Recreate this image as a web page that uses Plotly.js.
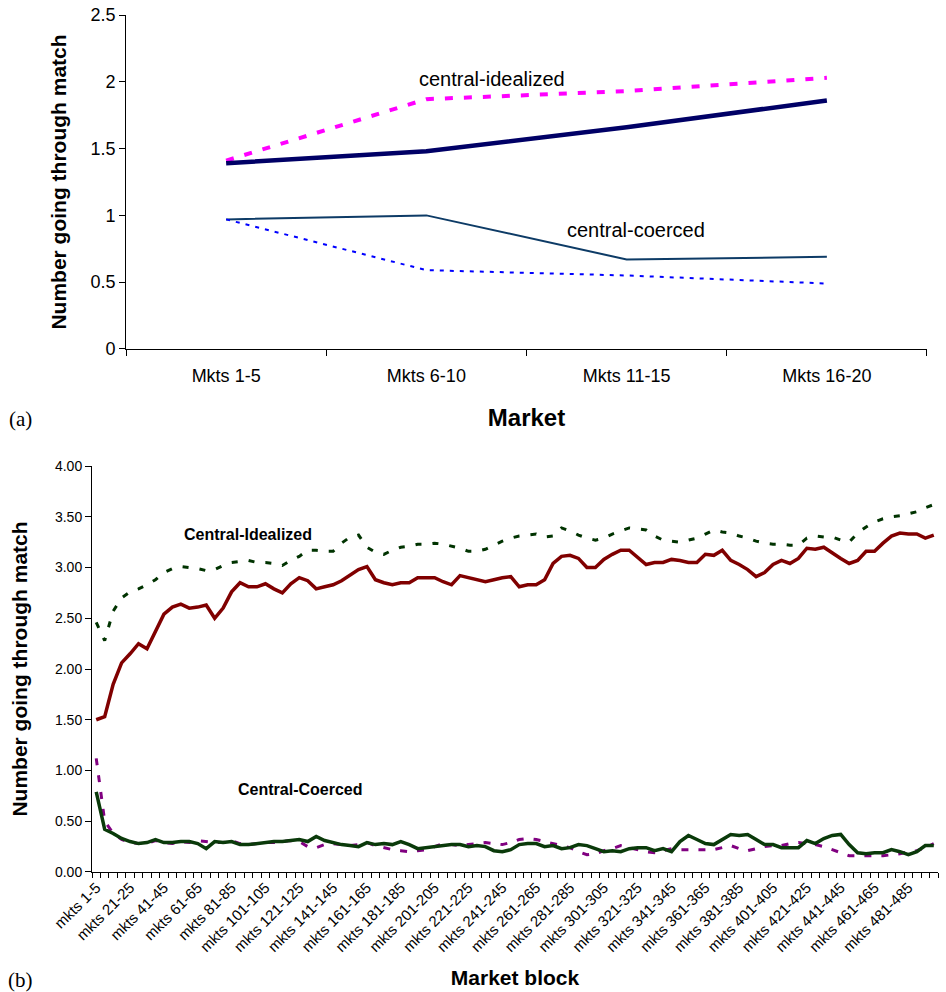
<!DOCTYPE html>
<html>
<head>
<meta charset="utf-8">
<script src="https://cdn.plot.ly/plotly-3.0.1.min.js"></script>
<style>html,body{margin:0;padding:0;background:#fff;}#chart{width:946px;height:992px;}</style>
</head>
<body>
<div id="chart"></div>
<script>
// ---------- Panel (a) data ----------
const aCategories = ["Mkts 1-5", "Mkts 6-10", "Mkts 11-15", "Mkts 16-20"];
const aIdealizedSolid  = [1.39, 1.48, 1.66, 1.86];
const aIdealizedDashed = [1.41, 1.87, 1.93, 2.03];
const aCoercedSolid    = [0.97, 1.00, 0.67, 0.69];
const aCoercedDotted   = [0.97, 0.59, 0.55, 0.49];

// ---------- Panel (b) data ----------
const bCategories = [
"mkts 1-5","mkts 6-10","mkts 11-15","mkts 16-20","mkts 21-25","mkts 26-30","mkts 31-35","mkts 36-40","mkts 41-45","mkts 46-50",
"mkts 51-55","mkts 56-60","mkts 61-65","mkts 66-70","mkts 71-75","mkts 76-80","mkts 81-85","mkts 86-90","mkts 91-95","mkts 96-100",
"mkts 101-105","mkts 106-110","mkts 111-115","mkts 116-120","mkts 121-125","mkts 126-130","mkts 131-135","mkts 136-140","mkts 141-145","mkts 146-150",
"mkts 151-155","mkts 156-160","mkts 161-165","mkts 166-170","mkts 171-175","mkts 176-180","mkts 181-185","mkts 186-190","mkts 191-195","mkts 196-200",
"mkts 201-205","mkts 206-210","mkts 211-215","mkts 216-220","mkts 221-225","mkts 226-230","mkts 231-235","mkts 236-240","mkts 241-245","mkts 246-250",
"mkts 251-255","mkts 256-260","mkts 261-265","mkts 266-270","mkts 271-275","mkts 276-280","mkts 281-285","mkts 286-290","mkts 291-295","mkts 296-300",
"mkts 301-305","mkts 306-310","mkts 311-315","mkts 316-320","mkts 321-325","mkts 326-330","mkts 331-335","mkts 336-340","mkts 341-345","mkts 346-350",
"mkts 351-355","mkts 356-360","mkts 361-365","mkts 366-370","mkts 371-375","mkts 376-380","mkts 381-385","mkts 386-390","mkts 391-395","mkts 396-400",
"mkts 401-405","mkts 406-410","mkts 411-415","mkts 416-420","mkts 421-425","mkts 426-430","mkts 431-435","mkts 436-440","mkts 441-445","mkts 446-450",
"mkts 451-455","mkts 456-460","mkts 461-465","mkts 466-470","mkts 471-475","mkts 476-480","mkts 481-485","mkts 486-490","mkts 491-495","mkts 496-500"
];
const bTickLabels = [
"mkts 1-5","mkts 21-25","mkts 41-45","mkts 61-65","mkts 81-85","mkts 101-105","mkts 121-125","mkts 141-145","mkts 161-165","mkts 181-185",
"mkts 201-205","mkts 221-225","mkts 241-245","mkts 261-265","mkts 281-285","mkts 301-305","mkts 321-325","mkts 341-345","mkts 361-365","mkts 381-385",
"mkts 401-405","mkts 421-425","mkts 441-445","mkts 461-465","mkts 481-485"
];
const bIdealizedSolid = [
1.50,1.53,1.85,2.06,2.15,2.25,2.20,2.37,2.54,2.61,
2.64,2.60,2.61,2.63,2.50,2.60,2.76,2.85,2.81,2.81,
2.84,2.79,2.75,2.84,2.90,2.87,2.79,2.81,2.83,2.87,
2.93,2.98,3.01,2.88,2.85,2.83,2.85,2.85,2.90,2.90,
2.90,2.86,2.83,2.92,2.90,2.88,2.86,2.88,2.90,2.91,
2.81,2.83,2.83,2.88,3.04,3.11,3.12,3.09,3.00,3.00,
3.08,3.13,3.17,3.17,3.10,3.03,3.05,3.05,3.08,3.07,
3.05,3.05,3.13,3.12,3.17,3.07,3.03,2.98,2.91,2.95,
3.03,3.07,3.04,3.09,3.19,3.18,3.20,3.14,3.09,3.04,
3.07,3.16,3.16,3.24,3.31,3.34,3.33,3.33,3.29,3.32
];
const bIdealizedDotted = [
2.46,2.28,2.57,2.70,2.76,2.79,2.83,2.88,2.95,2.99,
3.01,3.00,2.99,2.97,2.98,3.02,3.05,3.06,3.07,3.05,
3.05,3.04,3.02,3.07,3.11,3.17,3.17,3.16,3.16,3.24,
3.30,3.32,3.20,3.15,3.13,3.17,3.20,3.21,3.23,3.23,
3.24,3.23,3.21,3.19,3.16,3.16,3.18,3.22,3.26,3.29,
3.31,3.32,3.33,3.30,3.31,3.39,3.36,3.32,3.29,3.27,
3.29,3.33,3.36,3.39,3.38,3.37,3.31,3.27,3.26,3.25,
3.27,3.29,3.33,3.37,3.35,3.34,3.31,3.29,3.26,3.24,
3.23,3.23,3.22,3.22,3.29,3.31,3.30,3.30,3.27,3.25,
3.34,3.40,3.45,3.48,3.50,3.51,3.53,3.55,3.59,3.62
];
const bCoercedSolid = [
0.79,0.42,0.38,0.33,0.30,0.28,0.29,0.32,0.29,0.29,
0.30,0.30,0.28,0.23,0.30,0.29,0.30,0.27,0.27,0.28,
0.29,0.30,0.30,0.31,0.32,0.30,0.35,0.31,0.29,0.27,
0.26,0.25,0.29,0.27,0.28,0.27,0.30,0.27,0.23,0.24,
0.25,0.26,0.27,0.27,0.25,0.26,0.25,0.21,0.20,0.22,
0.27,0.28,0.28,0.25,0.26,0.23,0.24,0.27,0.26,0.23,
0.20,0.21,0.20,0.23,0.24,0.24,0.21,0.23,0.20,0.30,
0.36,0.32,0.28,0.27,0.32,0.37,0.36,0.37,0.32,0.27,
0.27,0.24,0.24,0.24,0.31,0.28,0.33,0.36,0.37,0.27,
0.19,0.18,0.19,0.19,0.22,0.20,0.17,0.20,0.26,0.26
];
const bCoercedDashed = [
1.12,0.50,0.38,0.32,0.29,0.28,0.28,0.31,0.29,0.28,
0.30,0.29,0.31,0.30,0.29,0.29,0.31,0.28,0.27,0.28,
0.29,0.29,0.30,0.31,0.30,0.25,0.24,0.27,0.28,0.27,
0.26,0.27,0.29,0.26,0.24,0.22,0.21,0.20,0.21,0.22,
0.25,0.28,0.27,0.26,0.27,0.28,0.29,0.28,0.27,0.29,
0.32,0.33,0.32,0.30,0.28,0.26,0.24,0.20,0.17,0.18,
0.21,0.23,0.26,0.24,0.22,0.20,0.19,0.21,0.23,0.22,
0.22,0.22,0.22,0.22,0.24,0.26,0.23,0.21,0.23,0.25,
0.26,0.26,0.28,0.29,0.28,0.27,0.25,0.22,0.19,0.16,
0.16,0.16,0.16,0.16,0.17,0.18,0.20,0.21,0.24,0.28
];

const FONT = "Liberation Sans, Arial, Helvetica, sans-serif";

const traces = [
  {x: aCategories, y: aIdealizedDashed, xaxis: "x", yaxis: "y", mode: "lines", name: "central-idealized (dashed)",
   line: {color: "#ff00ff", width: 4, dash: "8px,11px"}},
  {x: aCategories, y: aIdealizedSolid, xaxis: "x", yaxis: "y", mode: "lines", name: "central-idealized",
   line: {color: "#000066", width: 4.5}},
  {x: aCategories, y: aCoercedSolid, xaxis: "x", yaxis: "y", mode: "lines", name: "central-coerced",
   line: {color: "#0d3b66", width: 2}},
  {x: aCategories, y: aCoercedDotted, xaxis: "x", yaxis: "y", mode: "lines", name: "central-coerced (dotted)",
   line: {color: "#0000ff", width: 2, dash: "4px,6px"}},

  {x: bCategories, y: bIdealizedDotted, xaxis: "x2", yaxis: "y2", mode: "lines", name: "Central-Idealized (dotted)",
   line: {color: "#003300", width: 3, dash: "6px,11px"}},
  {x: bCategories, y: bIdealizedSolid, xaxis: "x2", yaxis: "y2", mode: "lines", name: "Central-Idealized",
   line: {color: "#800000", width: 3.5}},
  {x: bCategories, y: bCoercedDashed, xaxis: "x2", yaxis: "y2", mode: "lines", name: "Central-Coerced (dashed)",
   line: {color: "#800080", width: 3, dash: "7px,10px"}},
  {x: bCategories, y: bCoercedSolid, xaxis: "x2", yaxis: "y2", mode: "lines", name: "Central-Coerced",
   line: {color: "#0a3a0a", width: 3.5}}
];

const bTickText = bCategories.map(c => bTickLabels.indexOf(c) >= 0 ? c : "");

const layout = {
  width: 946, height: 992,
  margin: {l: 92, r: 8, t: 15, b: 120},
  paper_bgcolor: "#ffffff", plot_bgcolor: "#ffffff",
  showlegend: false,
  font: {family: FONT, color: "#000"},
  xaxis: {
    domain: [0.0402, 0.9870], anchor: "y", type: "category",
    range: [-0.5, 3.5], tickson: "boundaries",
    showline: true, linecolor: "#000", linewidth: 1, ticks: "outside", ticklen: 6, tickcolor: "#000",
    ticklabelstandoff: 10,
    showgrid: false, zeroline: false,
    tickfont: {size: 18, family: FONT},
    title: {text: "Market", font: {size: 24, family: FONT, weight: "bold"}, standoff: 24}
  },
  yaxis: {
    domain: [0.6103, 1.0], anchor: "x",
    range: [0, 2.5], dtick: 0.5, tick0: 0,
    showline: true, linecolor: "#000", linewidth: 1, ticks: "outside", ticklen: 6, tickcolor: "#000",
    showgrid: false, zeroline: false,
    tickfont: {size: 18, family: FONT},
    title: {text: "Number going through match", font: {size: 21, family: FONT, weight: "bold"}, standoff: 18}
  },
  xaxis2: {
    domain: [0, 1], anchor: "y2", type: "category",
    range: [-0.5, 99.5], tickson: "boundaries",
    tickmode: "array", tickvals: bCategories, ticktext: bTickText,
    tickangle: -45,
    showline: true, linecolor: "#000", linewidth: 1, ticks: "outside", ticklen: 5, tickcolor: "#000",
    showgrid: false, zeroline: false,
    tickfont: {size: 15, family: FONT},
    title: {text: "Market block", font: {size: 21, family: FONT, weight: "bold"}, standoff: 16}
  },
  yaxis2: {
    domain: [0, 0.4737], anchor: "x2",
    range: [0, 4], dtick: 0.5, tick0: 0, tickformat: ".2f",
    showline: true, linecolor: "#000", linewidth: 1, ticks: "outside", ticklen: 6, tickcolor: "#000",
    showgrid: false, zeroline: false,
    tickfont: {size: 14, family: FONT},
    title: {text: "Number going through match", font: {size: 21, family: FONT, weight: "bold"}, standoff: 21}
  },
  annotations: [
    {text: "central-idealized", xref: "paper", yref: "paper", x: 0.4728, y: 0.9253, showarrow: false,
     xanchor: "center", yanchor: "middle", font: {size: 20, family: FONT}},
    {text: "central-coerced", xref: "paper", yref: "paper", x: 0.6428, y: 0.7491, showarrow: false,
     xanchor: "center", yanchor: "middle", font: {size: 20, family: FONT}},
    {text: "Central-Idealized", xref: "paper", yref: "paper", x: 0.1840, y: 0.3940, showarrow: false,
     xanchor: "center", yanchor: "middle", font: {size: 16, family: FONT, weight: "bold"}},
    {text: "Central-Coerced", xref: "paper", yref: "paper", x: 0.2454, y: 0.0965, showarrow: false,
     xanchor: "center", yanchor: "middle", font: {size: 16, family: FONT, weight: "bold"}},
    {text: "(a)", xref: "paper", yref: "paper", x: -0.0840, y: 0.5286, showarrow: false,
     xanchor: "center", yanchor: "middle", font: {size: 21, family: "Liberation Serif, Times New Roman, serif"}},
    {text: "(b)", xref: "paper", yref: "paper", x: -0.0840, y: -0.126, showarrow: false,
     xanchor: "center", yanchor: "middle", font: {size: 21, family: "Liberation Serif, Times New Roman, serif"}}
  ]
};

Plotly.newPlot("chart", traces, layout, {displayModeBar: false, staticPlot: true});
</script>
</body>
</html>
